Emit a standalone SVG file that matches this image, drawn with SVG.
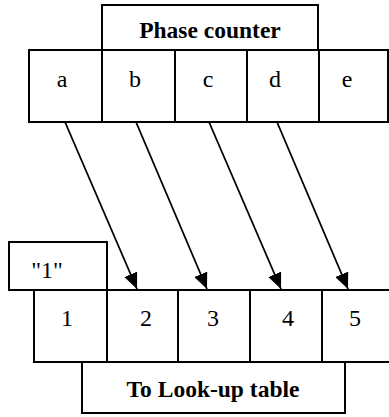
<svg xmlns="http://www.w3.org/2000/svg" width="389" height="417" viewBox="0 0 389 417">
  <style>
    .box { fill: #fff; stroke: #000; stroke-width: 2; }
    .lbl { font-family: "Liberation Serif", "Times New Roman", serif; font-size: 24px; fill: #000; text-anchor: middle; }
    .title { font-family: "Liberation Serif", "Times New Roman", serif; font-size: 23.5px; font-weight: bold; fill: #000; text-anchor: middle; }
    .conn { stroke: #000; stroke-width: 1.8; fill: none; marker-end: url(#arrow); }
  </style>
  <defs>
    <marker id="arrow" viewBox="0 0 16 14" refX="16" refY="7" markerWidth="16" markerHeight="14" markerUnits="userSpaceOnUse" orient="auto">
      <path d="M0,0 L16,7 L0,14 z" fill="#000"/>
    </marker>
  </defs>

  <!-- top register -->
  <g id="phase-counter">
    <rect class="box" x="102" y="5" width="216" height="45"/>
    <text class="title" x="210" y="38">Phase counter</text>
  </g>
  <g id="cell-a"><rect class="box" x="29" y="50" width="73" height="72"/><text class="lbl" x="62" y="87">a</text></g>
  <g id="cell-b"><rect class="box" x="102" y="50" width="73" height="72"/><text class="lbl" x="135" y="87">b</text></g>
  <g id="cell-c"><rect class="box" x="175" y="50" width="72" height="72"/><text class="lbl" x="208" y="87">c</text></g>
  <g id="cell-d"><rect class="box" x="247" y="50" width="72" height="72"/><text class="lbl" x="275" y="87">d</text></g>
  <g id="cell-e"><rect class="box" x="319" y="50" width="69" height="72"/><text class="lbl" x="347" y="87">e</text></g>

  <!-- bottom register -->
  <g id="const-one">
    <rect class="box" x="9" y="242" width="98" height="48"/>
    <text class="lbl" x="47" y="278">"1"</text>
  </g>
  <g id="cell-1"><rect class="box" x="34" y="290" width="73" height="72"/><text class="lbl" x="67" y="326">1</text></g>
  <g id="cell-2"><rect class="box" x="107" y="290" width="71" height="72"/><text class="lbl" x="146" y="326">2</text></g>
  <g id="cell-3"><rect class="box" x="178" y="290" width="72" height="72"/><text class="lbl" x="213" y="326">3</text></g>
  <g id="cell-4"><rect class="box" x="250" y="290" width="72" height="72"/><text class="lbl" x="288" y="326">4</text></g>
  <g id="cell-5"><rect class="box" x="322" y="290" width="68" height="72"/><text class="lbl" x="355" y="326">5</text></g>
  <g id="lookup">
    <rect class="box" x="82" y="362" width="263" height="51"/>
    <text class="title" x="213" y="397">To Look-up table</text>
  </g>

  <!-- shift connectors -->
  <g id="connectors">
    <line class="conn" x1="65" y1="122" x2="137" y2="289"/>
    <line class="conn" x1="136" y1="122" x2="207" y2="289"/>
    <line class="conn" x1="209" y1="122" x2="281" y2="289"/>
    <line class="conn" x1="277" y1="122" x2="348" y2="289"/>
  </g>
</svg>
